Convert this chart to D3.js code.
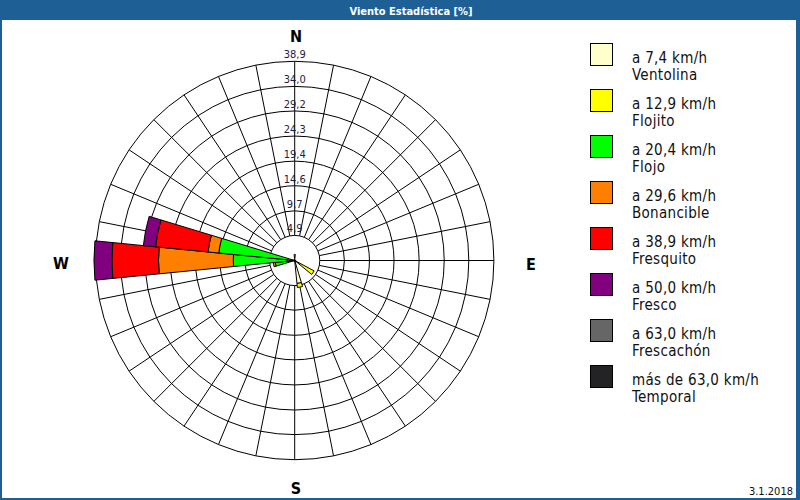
<!DOCTYPE html>
<html><head><meta charset="utf-8">
<script src="https://cdn.jsdelivr.net/npm/d3@7"></script>
<style>
html,body{margin:0;padding:0;background:#fff;}
svg{display:block;}
text{font-family:"DejaVu Sans Condensed","DejaVu Sans",sans-serif;}
</style></head><body>
<svg id="c" width="800" height="500"></svg>
<script>
// ---- data ----
const directions = ["N","NbE","NNE","NEbN","NE","NEbE","ENE","EbN","E","EbS","ESE","SEbE","SE","SEbS","SSE","SbE","S","SbW","SSW","SWbS","SW","SWbW","WSW","WbS","W","WbN","WNW","NWbW","NW","NWbN","NNW","NbW"];
const classLabels = ["a 7,4 km/h","a 12,9 km/h","a 20,4 km/h","a 29,6 km/h","a 38,9 km/h","a 50,0 km/h","a 63,0 km/h","más de 63,0 km/h"];
const classNames = ["Ventolina","Flojito","Flojo","Bonancible","Fresquito","Fresco","Frescachón","Temporal"];
const classColors = ["#ffffcc","#ffff00","#00ff00","#ff8000","#ff0000","#800080","#666666","#232326"];
const ringLabels = ["4,9","9,7","14,6","19,4","24,3","29,2","34,0","38,9"];
const ringValues = [4.9,9.7,14.6,19.4,24.3,29.2,34.0,38.9];
const compass = ["N","E","S","W"];
// values in % per direction (32 directions)
const ventolina  = [0.4,0,0,0,0,0,0,0,0.2,0.2,0.3,1.0,0.3,0,0,4.5,0.2,0,0,0,0,0,0.2,0.3,0.5,0.4,0,0,0,0,0,0.2];
const flojito    = [0.8,0,0,0,0,0,0,0,0,0,0,3.3,0,0,0,0.8,0,0,0,0,0,0,0,0.7,1.0,1.0,0,0,0,0,0,0];
const flojo      = [0,0,0,0,0,0,0,0,0,0,0,0,0,0,0,0,0,0,0,0,0,0,0,2.8,10.5,13.5,0,0,0,0,0,0];
const bonancible = [0,0,0,0,0,0,0,0,0,0,0,0,0,0,0,0,0,0,0,0,0,0,0,0.4,14.6,2.1,0,0,0,0,0,0];
const fresquito  = [0,0,0,0,0,0,0,0,0,0,0,0,0,0,0,0,0,0,0,0,0,0,0,0,9.1,10.3,0,0,0,0,0,0];
const fresco     = [0,0,0,0,0,0,0,0,0,0,0,0,0,0,0,0,0,0,0,0,0,0,0,0,3.5,2.4,0,0,0,0,0,0];
const frescachon = [0,0,0,0,0,0,0,0,0,0,0,0,0,0,0,0,0,0,0,0,0,0,0,0,0,0,0,0,0,0,0,0];
const temporal   = [0,0,0,0,0,0,0,0,0,0,0,0,0,0,0,0,0,0,0,0,0,0,0,0,0,0,0,0,0,0,0,0];
const series = [ventolina,flojito,flojo,bonancible,fresquito,fresco,frescachon,temporal];
const title = "Viento Estadística [%]";
const dateLabel = "3.1.2018";

// ---- layout ----
const svg = d3.select("#c");
const W = 800, H = 500;
const cx = 294.7, cy = 260.5, R = 199.2;
svg.append("rect").attr("width",W).attr("height",H).attr("fill","#1e5f96");
svg.append("rect").attr("x",2).attr("y",20).attr("width",794).attr("height",478).attr("fill","#fff");
svg.append("text").attr("x",411).attr("y",14.5).attr("text-anchor","middle")
  .attr("fill","#fff").attr("font-weight","bold").attr("font-size","11px").text(title);

const r = d3.scaleLinear().domain([0, ringValues[ringValues.length-1]]).range([0, R]);
const ang = d3.scaleLinear().domain([0, directions.length]).range([0, 2*Math.PI]);
const g = svg.append("g").attr("transform",`translate(${cx},${cy})`);

// grid
const grid = g.append("g").attr("fill","none").attr("stroke","#000").attr("stroke-width",1);
ringValues.forEach(v => grid.append("circle").attr("r", r(v)));
directions.forEach((d,i) => {
  const a = ang(i);
  const r0 = r(ringValues[0]), r1 = r(ringValues[ringValues.length-1]);
  grid.append("line")
    .attr("x1", r0*Math.sin(a)).attr("y1", -r0*Math.cos(a))
    .attr("x2", r1*Math.sin(a)).attr("y2", -r1*Math.cos(a));
});

// wedges
const half = Math.PI/directions.length;
const arc = d3.arc();
const wedges = g.append("g");
directions.forEach((d,i) => {
  let cum = 0;
  series.forEach((s,k) => {
    const v = s[i];
    if (v <= 0) return;
    const a = ang(i);
    wedges.append("path")
      .attr("d", arc({innerRadius:r(cum), outerRadius:r(cum+v), startAngle:a-half, endAngle:a+half}))
      .attr("fill", classColors[k]).attr("stroke","#000").attr("stroke-width",1);
    cum += v;
  });
});

// ring labels
ringValues.forEach((v,i) => {
  g.append("text").attr("x",0).attr("y",-r(v)-3).attr("text-anchor","middle")
    .attr("font-size","11px").attr("fill","#1c1c48").text(ringLabels[i]);
});

// compass labels
const cpos = [[296,42],[531,270],[296,494],[61,269]];
compass.forEach((c,i) => {
  svg.append("text").attr("x",cpos[i][0]).attr("y",cpos[i][1]).attr("text-anchor","middle")
    .attr("font-size","16px").attr("font-weight","bold").attr("fill","#000").text(c);
});

// legend
const leg = svg.append("g");
classLabels.forEach((lab,i) => {
  const y = 43.5 + 46*i;
  leg.append("rect").attr("x",590.5).attr("y",y).attr("width",22).attr("height",22)
    .attr("fill",classColors[i]).attr("stroke","#000").attr("stroke-width",1);
  leg.append("text").attr("x",632).attr("y",y+19).attr("font-size","15px").attr("letter-spacing","0.3px").attr("fill","#111").text(lab);
  leg.append("text").attr("x",632).attr("y",y+36).attr("font-size","15px").attr("letter-spacing","0.3px").attr("fill","#111").text(classNames[i]);
});

svg.append("text").attr("x",793).attr("y",495).attr("text-anchor","end")
  .attr("font-size","11px").attr("fill","#111").text(dateLabel);
</script>
</body></html>
